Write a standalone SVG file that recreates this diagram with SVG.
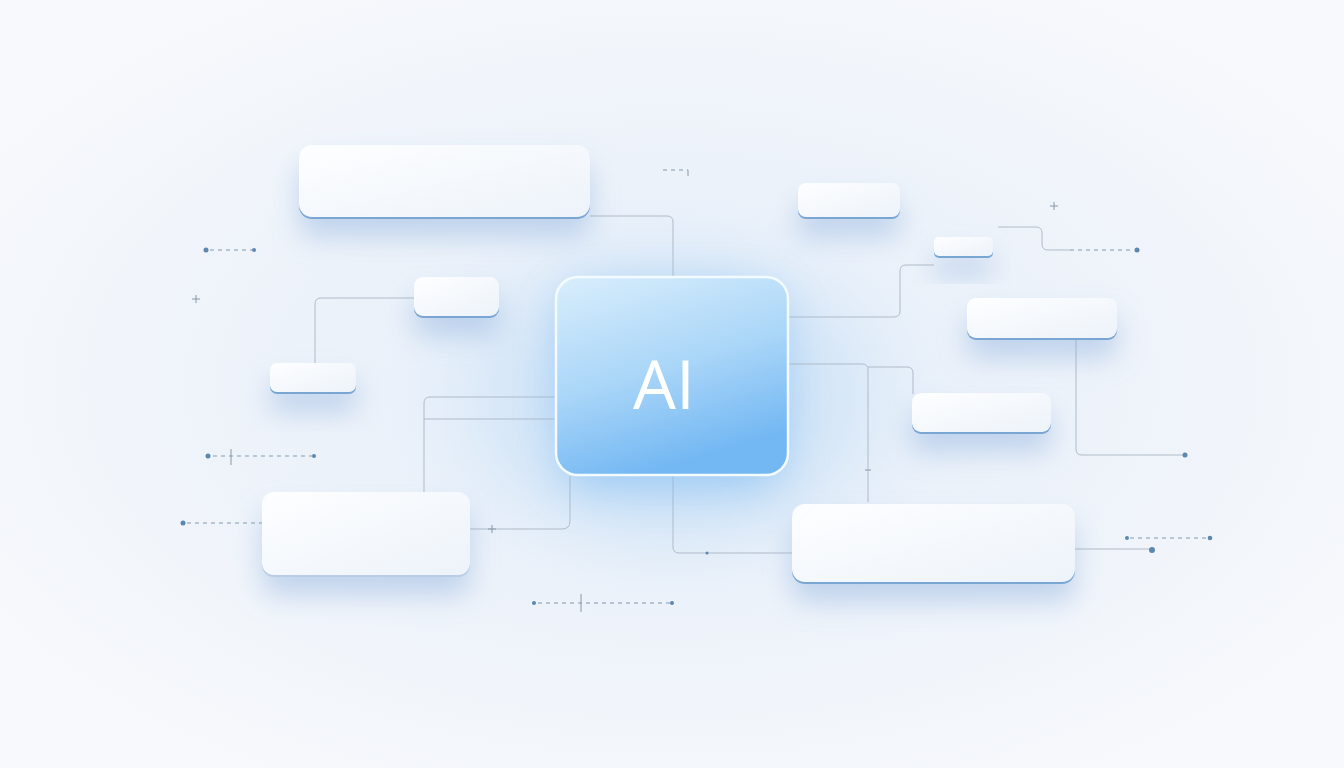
<svg xmlns="http://www.w3.org/2000/svg" width="1344" height="768" viewBox="0 0 1344 768">
<defs>
<radialGradient id="bg" cx="0.5" cy="0.5" r="0.6">
<stop offset="0" stop-color="#e4eef9"/>
<stop offset="0.55" stop-color="#eef3fa"/>
<stop offset="1" stop-color="#f7f9fc"/>
</radialGradient>
<radialGradient id="halo" cx="0.5" cy="0.5" r="0.5">
<stop offset="0" stop-color="#9ccaf4" stop-opacity="0.75"/>
<stop offset="0.6" stop-color="#c4def6" stop-opacity="0.4"/>
<stop offset="1" stop-color="#e8f0fa" stop-opacity="0"/>
</radialGradient>
<linearGradient id="core" x1="0" y1="0" x2="0.35" y2="1">
<stop offset="0" stop-color="#d9eefc"/>
<stop offset="0.55" stop-color="#aad6f8"/>
<stop offset="1" stop-color="#74b8f3"/>
</linearGradient>
<linearGradient id="card" x1="0" y1="0" x2="1" y2="1">
<stop offset="0" stop-color="#fdfeff"/>
<stop offset="1" stop-color="#edf3fa"/>
</linearGradient>
<filter id="sh" x="-30%" y="-60%" width="160%" height="280%">
<feDropShadow dx="0" dy="18" stdDeviation="14" flood-color="#86acdc" flood-opacity="0.45"/>
</filter>
<filter id="glow" x="-50%" y="-50%" width="200%" height="200%">
<feGaussianBlur stdDeviation="22"/>
</filter>
<style>
.edge{fill:#7aa6d3}
.face{fill:url(#card)}
.ln{fill:none;stroke:#b0bbc8;stroke-width:1}
.dl{fill:none;stroke:#8399ae;stroke-width:1;stroke-dasharray:4 4}
.dot{fill:#5b87b0}
.pl{stroke:#8a98a8;stroke-width:1;fill:none}
</style>
</defs>
<rect width="1344" height="768" fill="url(#bg)"/>
<ellipse cx="672" cy="400" rx="300" ry="220" fill="url(#halo)"/>

<g id="connectors">
<path class="ln" d="M590 216 H667 Q673 216 673 222 V276"/>
<path class="ln" d="M414 298 H321 Q315 298 315 304 V364"/>
<path class="ln" d="M555 397 H430 Q424 397 424 403 V493"/>
<path class="ln" d="M555 419 H424"/>
<path class="ln" d="M570 476 V521 Q570 529 562 529 H470"/>
<path class="pl" d="M492 525 V533 M488 529 H496"/>
<path class="ln" d="M673 476 V547 Q673 553 679 553 H792"/>
<circle cx="707" cy="553" r="1.5" class="dot"/>
<path class="ln" d="M788 317 H894 Q900 317 900 311 V271 Q900 265 906 265 H934"/>
<path class="ln" d="M788 364 H862 Q868 364 868 370 V502"/>
<path class="ln" d="M868 367 H907 Q913 367 913 373 V394"/>
<path class="pl" d="M865 470 H871"/>
<path class="ln" d="M998 227 H1036 Q1042 227 1042 233 V244 Q1042 250 1048 250 H1070"/>
<path class="dl" d="M1070 250 H1134"/>
<circle cx="1137" cy="250" r="2.5" class="dot"/>
<path class="pl" d="M1054 202 V210 M1050 206 H1058"/>
<path class="ln" d="M1076 339 V449 Q1076 455 1082 455 H1183"/>
<circle cx="1185" cy="455" r="2.5" class="dot"/>
<path class="ln" d="M1075 549 H1150"/>
<circle cx="1152" cy="550" r="3" class="dot"/>
<path class="dl" d="M1130 538 H1208"/>
<circle cx="1127" cy="538" r="2" class="dot"/>
<circle cx="1210" cy="538" r="2.3" class="dot"/>
<path class="dl" d="M663 170 H688"/>
<path class="pl" d="M688 170 V176"/>
<path class="dl" d="M210 250 H252"/>
<circle cx="206" cy="250" r="2.5" class="dot"/>
<circle cx="254" cy="250" r="2" class="dot"/>
<path class="pl" d="M196 295 V303 M192 299 H200"/>
<path class="dl" d="M213 456 H312"/>
<circle cx="208" cy="456" r="2.5" class="dot"/>
<circle cx="314" cy="456" r="2" class="dot"/>
<path class="pl" d="M231 449 V465"/>
<path class="dl" d="M187 523 H262"/>
<circle cx="183" cy="523" r="2.5" class="dot"/>
<path class="dl" d="M538 603 H671"/>
<circle cx="534" cy="603" r="2" class="dot"/>
<circle cx="672" cy="603" r="2" class="dot"/>
<path class="pl" d="M581 594 V612"/>
</g>

<g id="n1" filter="url(#sh)"><rect class="edge" x="299" y="147" width="291" height="72" rx="13"/><rect class="face" x="299" y="145" width="291" height="72" rx="13"/></g>
<g id="n2" filter="url(#sh)"><rect class="edge" x="798" y="185" width="102" height="34" rx="8"/><rect class="face" x="798" y="183" width="102" height="34" rx="8"/></g>
<g id="n3" filter="url(#sh)"><rect class="edge" x="934" y="239" width="59" height="19" rx="5"/><rect class="face" x="934" y="237" width="59" height="19" rx="5"/></g>
<g id="n4" filter="url(#sh)"><rect class="edge" x="967" y="300" width="150" height="40" rx="9"/><rect class="face" x="967" y="298" width="150" height="40" rx="9"/></g>
<g id="n5" filter="url(#sh)"><rect class="edge" x="912" y="395" width="139" height="39" rx="9"/><rect class="face" x="912" y="393" width="139" height="39" rx="9"/></g>
<g id="n6" filter="url(#sh)"><rect class="edge" x="792" y="506" width="283" height="78" rx="13"/><rect class="face" x="792" y="504" width="283" height="78" rx="13"/></g>
<g id="n7" filter="url(#sh)"><rect class="edge" x="414" y="279" width="85" height="39" rx="9"/><rect class="face" x="414" y="277" width="85" height="39" rx="9"/></g>
<g id="n8" filter="url(#sh)"><rect class="edge" x="270" y="365" width="86" height="29" rx="7"/><rect class="face" x="270" y="363" width="86" height="29" rx="7"/></g>
<g id="n9" filter="url(#sh)"><rect x="262" y="494" width="208" height="83" rx="12" fill="#b9cde4"/><rect class="face" x="262" y="492" width="208" height="83" rx="12"/></g>

<g id="core-node">
<rect x="560" y="290" width="224" height="200" rx="30" fill="#7dbaf2" opacity="0.55" filter="url(#glow)"/>
<rect x="556" y="277" width="232" height="198" rx="22" fill="url(#core)" stroke="#f4fbff" stroke-width="2.5"/>
<text x="664" y="409" text-anchor="middle" font-family="'Open Sans','Liberation Sans',sans-serif" font-size="68" font-weight="500" fill="#ffffff">AI</text>
</g>
</svg>
